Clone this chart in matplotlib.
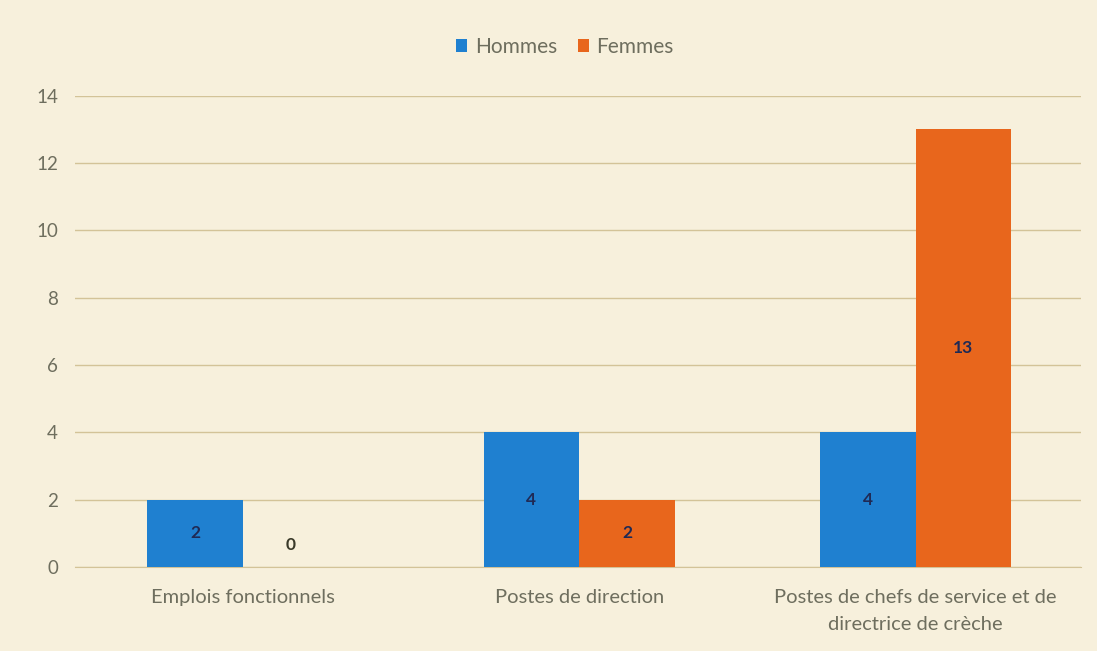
import numpy as np
import matplotlib.pyplot as plt

# Données
categories = ["Emplois fonctionnels", "Postes de direction",
              "Postes de chefs de service et de\ndirectrice de crèche"]
hommes = [2, 4, 4]
femmes = [0, 2, 13]
yticks = [0, 2, 4, 6, 8, 10, 12, 14]

plt.rcParams['font.family'] = ['Lato', 'DejaVu Sans']

fond = "#f7f0dc"
bleu = "#1f80d0"
orange = "#e8661c"
gris = "#6e6e5e"
grille = "#d3c398"

fig = plt.figure(figsize=(10.97, 6.51), dpi=100, facecolor=fond)
ax = fig.add_axes([0.068, 0.129, 0.917, 0.724], facecolor=fond)

x = np.arange(len(categories))
w = 0.284
b1 = ax.bar(x - w / 2, hommes, w, color=bleu, label="Hommes", zorder=3)
b2 = ax.bar(x + w / 2, femmes, w, color=orange, label="Femmes", zorder=3)

# étiquettes de valeurs au milieu des barres
for rect, v in zip(b1, hommes):
    ax.text(rect.get_x() + rect.get_width() / 2, v / 2, str(v),
            ha="center", va="center", fontsize=12.5, fontweight="bold",
            color="#1f2a55", zorder=4)
for rect, v in zip(b2, femmes):
    y = v / 2 if v > 0 else 0.65
    c = "#1f2a55" if v > 0 else "#3a3a2a"
    ax.text(rect.get_x() + rect.get_width() / 2, y, str(v),
            ha="center", va="center", fontsize=12.5, fontweight="bold",
            color=c, zorder=4)

ax.set_xlim(-0.5, 2.49)
ax.set_ylim(0, 14)
ax.set_yticks(yticks)
ax.yaxis.grid(True, color=grille, linewidth=1, zorder=0)
ax.set_axisbelow(True)
ax.set_xticks(x)
ax.set_xticklabels(categories, fontsize=14.5, color=gris, linespacing=1.7)
ax.tick_params(axis="y", labelsize=13.5, labelcolor=gris, length=0, pad=12)
ax.tick_params(axis="x", length=0, pad=16)
for s in ["top", "right", "left"]:
    ax.spines[s].set_visible(False)
ax.spines["bottom"].set_color(grille)

leg = fig.legend(loc="center", bbox_to_anchor=(0.515, 0.928), ncol=2,
                 frameon=False, fontsize=15, handlelength=0.55,
                 handleheight=0.55, handletextpad=0.35, columnspacing=1.0)
for t in leg.get_texts():
    t.set_color(gris)

plt.savefig("out.png", dpi=100, facecolor=fond)
